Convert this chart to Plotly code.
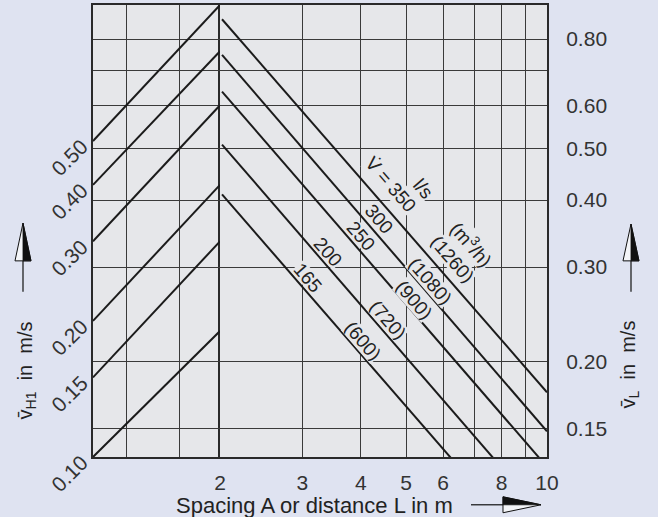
import math
import plotly.graph_objects as go

# ---------------- data ----------------
# left part: mean velocity v_H1 against spacing A (A = 1 ... 2 m)
A_ends = [1.0, 2.0]
vH1_start = [0.50, 0.40, 0.30, 0.20, 0.15, 0.10]
vH1_end = [1.00, 0.79, 0.60, 0.40, 0.30, 0.19]

# right part: velocity v_L against distance L for flow rates V
L_ends = [2.02, 10.0]
flow_ls = [350, 300, 250, 200, 165]
flow_m3h = [1260, 1080, 900, 720, 600]
vL_start = [0.871, 0.747, 0.638, 0.508, 0.410]
vL_end = [0.175, 0.148, 0.127, 0.101, 0.082]

# axes
L_ticks = [2, 3, 4, 5, 6, 8, 10]
L_labels = ["2", "3", "4", "5", "6", "8", "10"]
L_grid_extra = [7, 9]
A_grid = [1.2, 1.6]
vL_ticks = [0.15, 0.20, 0.30, 0.40, 0.50, 0.60, 0.80]
vL_labels = ["0.15", "0.20", "0.30", "0.40", "0.50", "0.60", "0.80"]
vL_grid_extra = [0.70]
vH1_ticks = [0.10, 0.15, 0.20, 0.30, 0.40, 0.50]
vH1_labels = ["0.10", "0.15", "0.20", "0.30", "0.40", "0.50"]

# ---------------- style ----------------
PAPER = "#dfe3f1"
PLOT = "#e6e7ea"
INK = "#1b1b1b"
TXT = "#333333"
GRID = "#3a3a3a"
FONT = "Liberation Sans, Arial, sans-serif"

W, H = 658, 517
ML, MR, MT, MB = 93, 111, 3, 60
PW = W - ML - MR
PH = H - MT - MB
SPLIT = (220 - ML) / PW  # x = 2 divider


def P(xp, yp):
    """pixel position -> paper coordinates (for decorations only)"""
    return (xp - ML) / PW, (H - MB - yp) / PH


fig = go.Figure()

# invisible trace so that the horizontal grid also spans the left part
fig.add_trace(go.Scatter(x=[None], y=[None], xaxis="x2", yaxis="y",
                         showlegend=False, hoverinfo="skip"))

for v0, v1 in zip(vH1_start, vH1_end):
    fig.add_trace(go.Scatter(x=A_ends, y=[v0, v1], mode="lines",
                             xaxis="x2", yaxis="y2",
                             line=dict(color=INK, width=2),
                             showlegend=False, hoverinfo="skip"))

for v0, v1 in zip(vL_start, vL_end):
    fig.add_trace(go.Scatter(x=L_ends, y=[v0, v1], mode="lines",
                             xaxis="x", yaxis="y",
                             line=dict(color=INK, width=2),
                             showlegend=False, hoverinfo="skip"))

axis_common = dict(showgrid=True, gridcolor=GRID, gridwidth=1,
                   showline=True, linecolor="#2a2a2a", linewidth=2,
                   mirror=True, ticks="", zeroline=False,
                   tickfont=dict(family=FONT, size=21, color=TXT))


def minor(vals):
    return dict(tickvals=vals, showgrid=True, gridcolor=GRID, gridwidth=1, ticks="")


fig.update_layout(
    width=W, height=H,
    margin=dict(l=ML, r=MR, t=MT, b=MB, pad=0),
    paper_bgcolor=PAPER, plot_bgcolor=PLOT,
    showlegend=False,
    xaxis=dict(axis_common, domain=[SPLIT, 1], type="log",
               range=[math.log10(2), 1], tickvals=L_ticks, ticktext=L_labels,
               minor=minor(L_grid_extra), anchor="y", ticklabelstandoff=6),
    xaxis2=dict(axis_common, domain=[0, SPLIT], type="log",
                range=[0, math.log10(2)], tickvals=[], minor=minor(A_grid),
                showticklabels=False, anchor="y"),
    yaxis=dict(axis_common, domain=[0, 1], type="log", side="right",
               range=[math.log10(0.1325), math.log10(0.926)],
               tickvals=vL_ticks, ticktext=vL_labels, minor=minor(vL_grid_extra),
               anchor="x", ticklabelstandoff=13),
    yaxis2=dict(axis_common, overlaying="y", side="left", anchor="x2",
                type="log", range=[-1, 0], tickvals=vH1_ticks,
                ticktext=vH1_labels, tickangle=-45, showgrid=False,
                mirror=False, ticklabelstandoff=5, ticklabelshift=3),
)

ann = []


def add_label(xp, yp, text, size=19, angle=49, bg=True, height=None):
    x, y = P(xp, yp)
    d = dict(x=x, y=y, xref="paper", yref="paper", text=text,
             showarrow=False, xanchor="center", yanchor="middle",
             textangle=angle, font=dict(family=FONT, size=size, color="#222"))
    if bg:
        d.update(bgcolor=PLOT, borderpad=0)
        if height:
            d.update(height=height)
    ann.append(d)


# line labels
add_label(391, 183, "V\u0307 = " + str(flow_ls[0]))
add_label(423, 187, "l/s")
num_pos = [(379, 218), (361, 235), (328, 251), (308, 277)]
for (xp, yp), q in zip(num_pos, flow_ls[1:]):
    add_label(xp, yp, str(q), height=16)
add_label(472, 243, "(m<sup>3</sup>/h)")
par_pos = [(452, 258), (430, 280), (414, 299), (388, 319), (363, 340)]
for (xp, yp), q in zip(par_pos, flow_m3h):
    add_label(xp, yp, "(" + str(q) + ")", height=18)

# axis titles
add_label(314, 506, "Spacing A or distance L in m", size=22, angle=0, bg=False)
add_label(26, 370, "v\u0304<sub>H1</sub>\u00a0 in\u00a0 m/s", size=20, angle=-90, bg=False)
add_label(629, 364, "v\u0304<sub>L</sub>\u00a0 in\u00a0 m/s", size=20, angle=-90, bg=False)

fig.update_layout(annotations=ann)


def path(pts):
    s = []
    for i, (xp, yp) in enumerate(pts):
        x, y = P(xp, yp)
        s.append(("M " if i == 0 else "L ") + f"{x:.5f},{y:.5f}")
    return " ".join(s) + " Z"


shapes = []


def arrow(line_pts, outline, filled):
    x0, y0 = P(*line_pts[0])
    x1, y1 = P(*line_pts[1])
    shapes.append(dict(type="line", xref="paper", yref="paper",
                       x0=x0, y0=y0, x1=x1, y1=y1,
                       line=dict(color="#111", width=1.2)))
    shapes.append(dict(type="path", xref="paper", yref="paper", path=path(outline),
                       fillcolor="#f4f5f8", line=dict(color="#111", width=1)))
    shapes.append(dict(type="path", xref="paper", yref="paper", path=path(filled),
                       fillcolor="#111", line=dict(color="#111", width=0.8)))


arrow([(471, 505), (503, 505)],
      [(503, 497), (541, 505), (503, 513)],
      [(503, 497), (541, 505), (503, 505)])
arrow([(23, 291), (23, 260)],
      [(15, 260), (23, 222), (31, 260)],
      [(23, 260), (23, 222), (31, 260)])
arrow([(631, 291), (631, 260)],
      [(623, 260), (631, 223), (639, 260)],
      [(631, 260), (631, 223), (639, 260)])

fig.update_layout(shapes=shapes)

fig.write_html("out.html")
